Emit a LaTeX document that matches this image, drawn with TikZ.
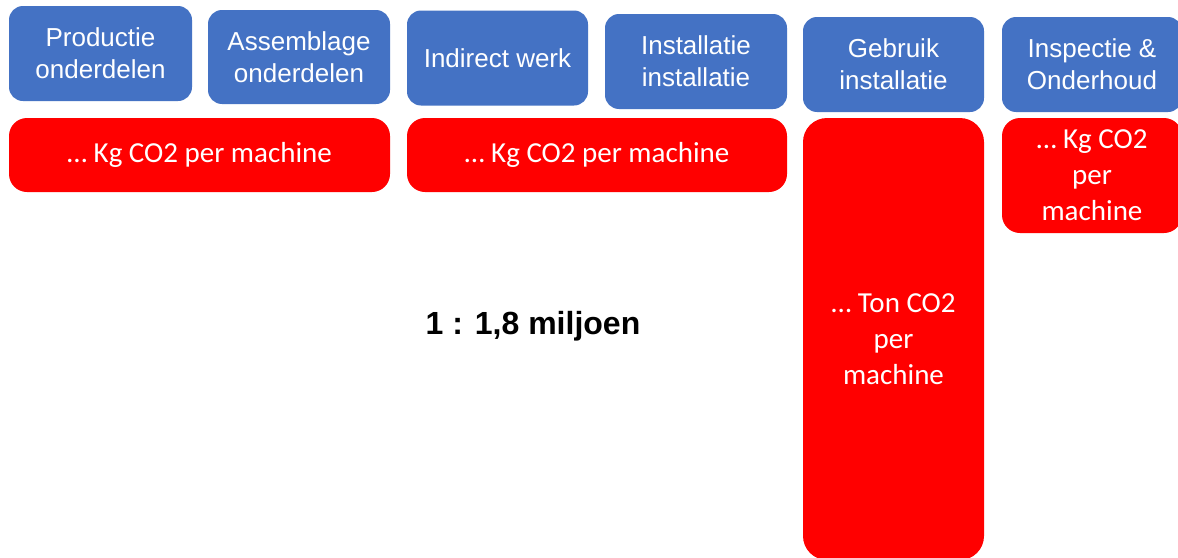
\documentclass[tikz,border=0pt]{standalone}
\usepackage{fontspec}
\setmainfont{Liberation Sans}
\newfontfamily\calfont{Carlito}
\definecolor{officeblue}{HTML}{4472C4}
\definecolor{brightred}{HTML}{FF0000}

\begin{document}
\begin{tikzpicture}[x=1pt,y=-1pt,
  fase/.style={fill=officeblue,text=white,rounded corners=14pt,inner sep=0pt,
    align=center,font=\fontsize{26}{32}\selectfont},
  uitstoot/.style={fill=brightred,text=white,rounded corners=18pt,inner sep=0pt,
    align=center,font=\calfont\fontsize{29}{36}\selectfont}]
  \useasboundingbox[fill=white] (0,0) rectangle (1178,557);
  % fasen
  \node[fase,minimum width=183pt,minimum height=95pt] (prod) at (100.5,53.5) {Productie\\onderdelen};
  \node[fase,minimum width=182pt,minimum height=94pt] (assem) at (299,57) {Assemblage\\onderdelen};
  \node[fase,minimum width=181pt,minimum height=95pt] (indir) at (497.5,58) {Indirect werk};
  \node[fase,minimum width=182pt,minimum height=95pt] (instal) at (696,61.5) {Installatie\\installatie};
  \node[fase,minimum width=181pt,minimum height=95pt] (gebr) at (893.5,64.5) {Gebruik\\installatie};
  \node[fase,minimum width=180pt,minimum height=95pt] (insp) at (1092,64.5) {Inspectie \&\\Onderhoud};
  % uitstoot
  \node[uitstoot,minimum width=381pt,minimum height=74pt] (kgeen) at (199.5,155) {\dots\ Kg CO2 per machine};
  \node[uitstoot,minimum width=380pt,minimum height=74pt] (kgtwee) at (597,155) {\dots\ Kg CO2 per machine};
  \node[uitstoot,rounded corners=24pt,minimum width=181pt,minimum height=442pt] (ton) at (893.5,339) {\dots\ Ton CO2\\per\\machine};
  \node[uitstoot,minimum width=180pt,minimum height=115pt] (kgdrie) at (1092,175.5) {\dots\ Kg CO2\\per\\machine};
  % verhouding
  \node[font=\fontsize{32}{38}\selectfont\bfseries] (ratio) at (533,326) {1 : 1,8 miljoen};
\end{tikzpicture}
\end{document}
